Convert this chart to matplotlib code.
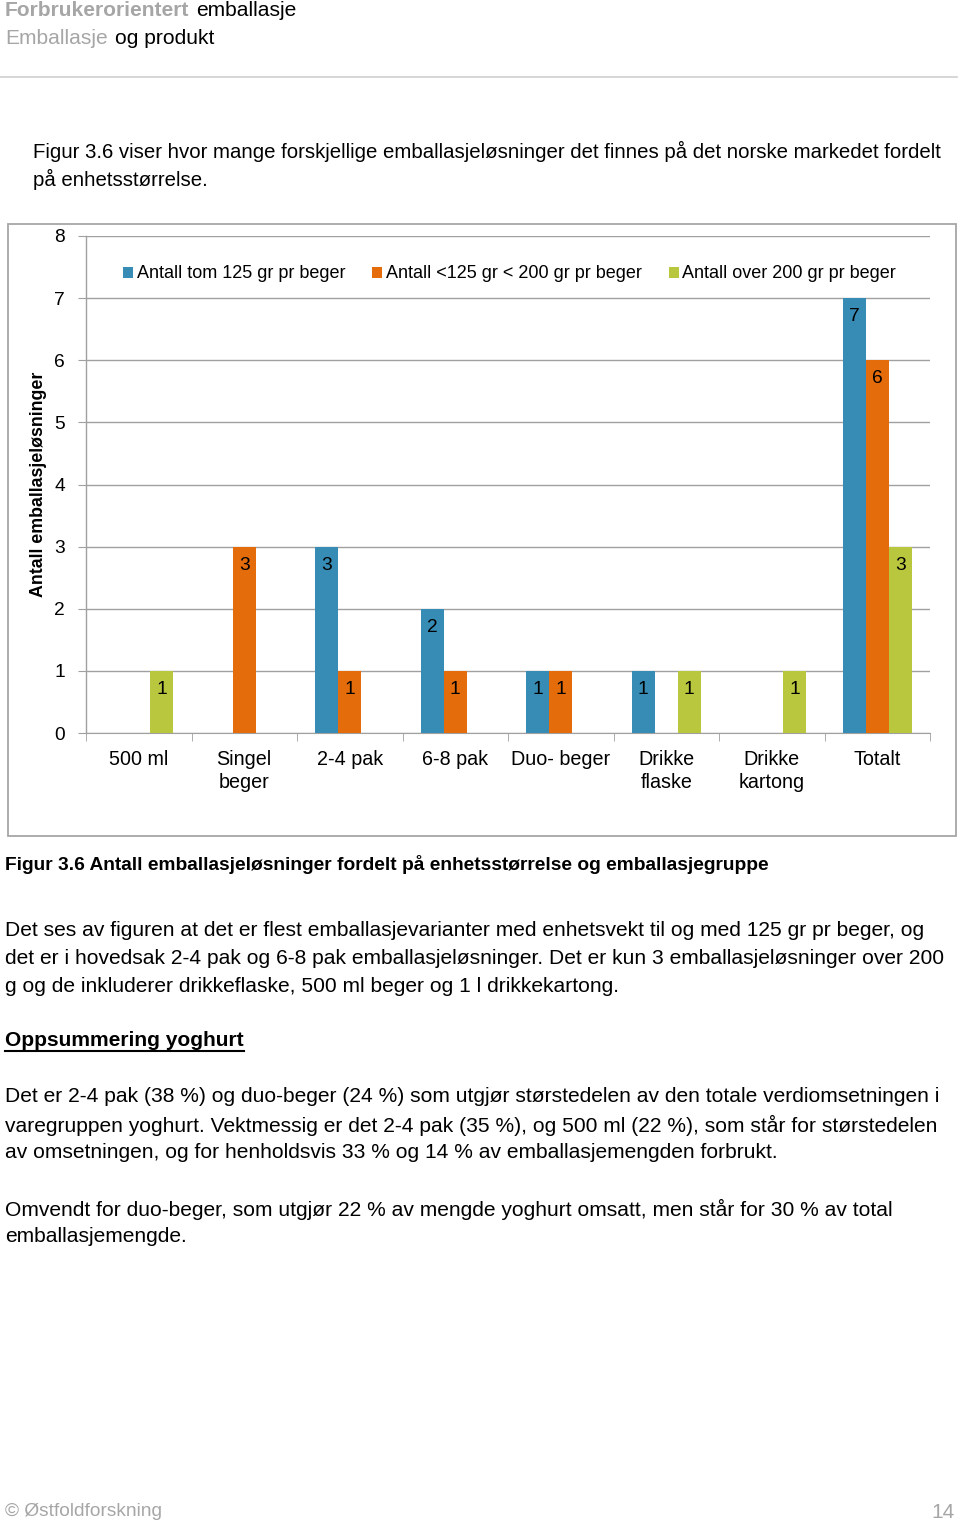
import numpy as np
import matplotlib
matplotlib.use("Agg")
import matplotlib.pyplot as plt
from matplotlib.patches import Rectangle
from matplotlib.lines import Line2D

plt.rcParams['font.family'] = ['Liberation Sans', 'DejaVu Sans']

categories = ['500 ml', 'Singel\nbeger', '2-4 pak', '6-8 pak', 'Duo- beger',
              'Drikke\nflaske', 'Drikke\nkartong', 'Totalt']
series_names = ['Antall tom 125 gr pr beger', 'Antall <125 gr < 200 gr pr beger',
                'Antall over 200 gr pr beger']
tom125 = [0, 0, 3, 2, 1, 1, 0, 7]
mellom = [0, 3, 1, 1, 1, 0, 0, 6]
over200 = [1, 0, 0, 0, 0, 1, 1, 3]
colors = ['#378cb5', '#e46c0a', '#b9c73f']

W, H = 960, 1523
fig = plt.figure(figsize=(W / 100, H / 100), dpi=100)


def fx(x):
    return x / W


def fy(y):
    return 1 - y / H


gray = '#a6a6a6'
fs = 15.1
fs_top = 14.65


def two_part(x, y, first, second, bold_first):
    t = fig.text(fx(x), fy(y), first, color=gray, fontsize=fs,
                 fontweight='bold' if bold_first else 'normal', va='center')
    fig.canvas.draw()
    bb = t.get_window_extent()
    fig.text((bb.x1 + 7) / W, fy(y), second, color='black', fontsize=fs, va='center')


# header
two_part(5, 11, 'Forbrukerorientert', 'emballasje', True)
two_part(5, 39, 'Emballasje', 'og produkt', False)
fig.add_artist(Line2D([0, fx(957)], [fy(77), fy(77)], color='#d0d0d0', lw=1.2))

fig.text(fx(33), fy(151), 'Figur 3.6 viser hvor mange forskjellige emballasjeløsninger det finnes på '
         'det norske markedet fordelt', fontsize=fs_top, va='center')
fig.text(fx(33), fy(179), 'på enhetsstørrelse.', fontsize=fs_top, va='center')

# chart frame
fig.add_artist(Rectangle((fx(8), fy(836)), fx(948), (836 - 224) / H,
                         fill=False, edgecolor=gray, lw=1.3))

ax = fig.add_axes([fx(86), fy(733), (930 - 86) / W, (733 - 236) / H])
x = np.arange(len(categories))
bw = 0.218
data = [tom125, mellom, over200]
for i, (vals, c, name) in enumerate(zip(data, colors, series_names)):
    xs = x + (i - 1) * bw
    ax.bar(xs, vals, width=bw, color=c, label=name, zorder=3)
    for xi, v in zip(xs, vals):
        if v > 0:
            ax.text(xi, v - 0.3, str(v), ha='center', va='center', fontsize=13.8, zorder=4)

ax.set_xlim(-0.5, len(categories) - 0.5)
ax.set_ylim(0, 8)
ax.set_yticks(range(0, 9))
ax.yaxis.grid(True, color='#a0a0a0', lw=1.0, zorder=0)
for s in ['top', 'right', 'left']:
    ax.spines[s].set_visible(False)
ax.spines['bottom'].set_color('#a0a0a0')
ax.plot([-0.5, -0.5], [0, 8], color='#a0a0a0', lw=1.0, clip_on=False, zorder=1)
ax.tick_params(axis='y', length=6, color='#a0a0a0', labelsize=13.8, pad=13)
for lab in ax.get_yticklabels():
    lab.set_horizontalalignment('center')
ax.set_xticks(x)
ax.set_xticklabels(categories, fontsize=14.2, linespacing=1.3)
ax.tick_params(axis='x', length=0, pad=12)
ax.set_xticks(np.arange(-0.5, len(categories)), minor=True)
ax.tick_params(axis='x', which='minor', length=6, color='#a0a0a0')
ax.set_ylabel('Antall emballasjeløsninger', fontsize=12.8, fontweight='bold')
ax.yaxis.set_label_coords(-(86 - 47) / (930 - 86), 0.5)
ax.legend(loc='center', bbox_to_anchor=(0.502, 1 - (274 - 236) / (733 - 236)),
          ncol=3, frameon=False, fontsize=13.0, handlelength=0.55, handleheight=0.55,
          handletextpad=0.2, columnspacing=1.5)

# caption and text
fig.text(fx(5), fy(864), 'Figur 3.6 Antall emballasjeløsninger fordelt på enhetsstørrelse og '
         'emballasjegruppe', fontsize=13.8, fontweight='bold', va='center')

lines1 = [
    'Det ses av figuren at det er flest emballasjevarianter med enhetsvekt til og med 125 gr pr beger, og',
    'det er i hovedsak 2-4 pak og 6-8 pak emballasjeløsninger. Det er kun 3 emballasjeløsninger over 200',
    'g og de inkluderer drikkeflaske, 500 ml beger og 1 l drikkekartong.',
]
for k, ln in enumerate(lines1):
    fig.text(fx(5), fy(930 + 28 * k), ln, fontsize=fs, va='center')

head = fig.text(fx(5), fy(1041), 'Oppsummering yoghurt', fontsize=fs,
                fontweight='bold', va='center')

lines2 = [
    'Det er 2-4 pak (38 %) og duo-beger (24 %) som utgjør størstedelen av den totale verdiomsetningen i',
    'varegruppen yoghurt. Vektmessig er det 2-4 pak (35 %), og 500 ml (22 %), som står for størstedelen',
    'av omsetningen, og for henholdsvis 33 % og 14 % av emballasjemengden forbrukt.',
]
for k, ln in enumerate(lines2):
    fig.text(fx(5), fy(1097 + 28 * k), ln, fontsize=fs, va='center')

lines3 = [
    'Omvendt for duo-beger, som utgjør 22 % av mengde yoghurt omsatt, men står for 30 % av total',
    'emballasjemengde.',
]
for k, ln in enumerate(lines3):
    fig.text(fx(5), fy(1209 + 28 * k), ln, fontsize=fs, va='center')

# underline for heading
fig.canvas.draw()
bb = head.get_window_extent()
fig.add_artist(Line2D([bb.x0 / W, bb.x1 / W], [fy(1051), fy(1051)], color='black', lw=1.5))

# footer
fig.text(fx(5), fy(1512), '© Østfoldforskning', color=gray, fontsize=13.8, va='center')
fig.text(fx(955), fy(1512), '14', color=gray, fontsize=15, va='center', ha='right')

fig.savefig('out.png', dpi=100)
